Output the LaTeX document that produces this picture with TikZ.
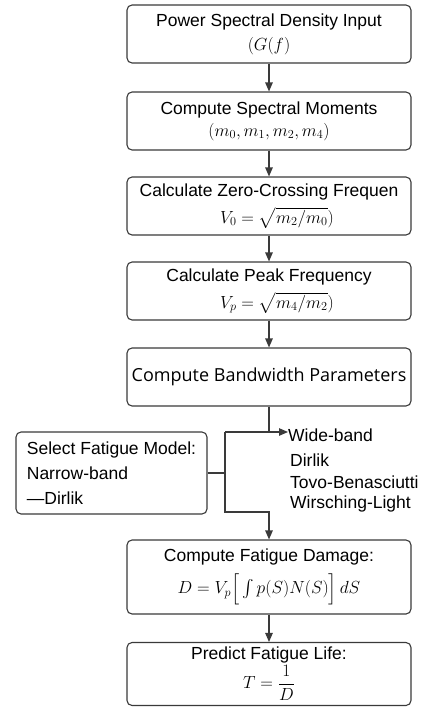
\RequirePackage{fix-cm}
\documentclass[tikz,border=0pt]{standalone}
\usepackage{amsmath}
\usepackage{exscale}
\usepackage[no-math]{fontspec}
\setmainfont{Liberation Sans}
\newfontfamily\bandfont{Open Sans}
\usetikzlibrary{arrows.meta,calc}
\definecolor{trazo}{HTML}{3A3A3A}
\tikzset{
  stepbox/.style={draw=trazo,line width=1.1pt,rounded corners=5pt,fill=white,
    align=center,minimum width=284pt,minimum height=58pt,inner sep=2pt,
    font=\fontsize{17.5}{21}\selectfont},
  tallbox/.style={stepbox,minimum height=74pt},
  lowbox/.style={stepbox,minimum height=63pt},
  sidebox/.style={draw=trazo,line width=1.1pt,rounded corners=5pt,fill=white,
    align=left,minimum width=191pt,minimum height=82pt,
    font=\fontsize{17.5}{25}\selectfont},
  listword/.style={anchor=west,inner sep=0pt,font=\fontsize{17.5}{21}\selectfont},
  arrow/.style={-{Triangle[length=9pt,width=7.5pt]},line width=1.1pt,draw=trazo},
  link/.style={line width=1.1pt,draw=trazo}
}
\begin{document}
\begin{tikzpicture}[x=1pt,y=-1pt]
\useasboundingbox (0,0) rectangle (425,707);

\node[stepbox] (psd) at (269,34) {Power Spectral Density Input\\[3pt]$(G(f)$};
\node[stepbox] (moments) at (269,121) {Compute Spectral Moments\\[1pt]$(m_0,m_1,m_2,m_4)$};
\node[stepbox] (zero) at (269,206) {Calculate Zero-Crossing Frequen\\[6pt]\hspace*{16pt}$V_0=\sqrt{m_2/m_0})$};
\node[stepbox] (peak) at (269,291) {Calculate Peak Frequency\\[6pt]\hspace*{16pt}$V_p=\sqrt{m_4/m_2})$};
\node[stepbox,font=\bandfont\fontsize{18}{22}\selectfont] (band) at (269,377) {Compute Bandwidth Parameters};

\node[sidebox] (select) at (111.5,473) {Select Fatigue Model:\\Narrow-band\\—Dirlik};

\node[listword] (wide) at (288,435) {Wide-band};
\node[listword] (dirlik) at (290,460) {Dirlik};
\node[listword] (tovo) at (290,482) {Tovo-Benasciutti};
\node[listword] (wirsch) at (290,504) {Wirsching-Light};

\node[tallbox] (damage) at (269,577) {Compute Fatigue Damage:\\[7pt]$D=V_p\Big[\int p(S)N(S)\Big]\,dS$};
\node[lowbox] (life) at (269,674) {Predict Fatigue Life:\\[1pt]$T=\dfrac{1}{D}$};

\coordinate (split) at (269,432);
\coordinate (fork) at (225,432);
\coordinate (merge) at (269,512);

\draw[arrow] (psd) -- (moments);
\draw[arrow] (moments) -- (zero);
\draw[arrow] (zero) -- (peak);
\draw[arrow] (peak) -- (band);
\draw[link] (band) -- (split);
\draw[arrow] (fork) -- (fork -| wide.west);
\draw[link] (select.east) -- (select.east -| fork);
\draw[arrow] (fork) |- (merge) -- (damage);
\draw[arrow] (damage) -- (life);
\end{tikzpicture}
\end{document}
